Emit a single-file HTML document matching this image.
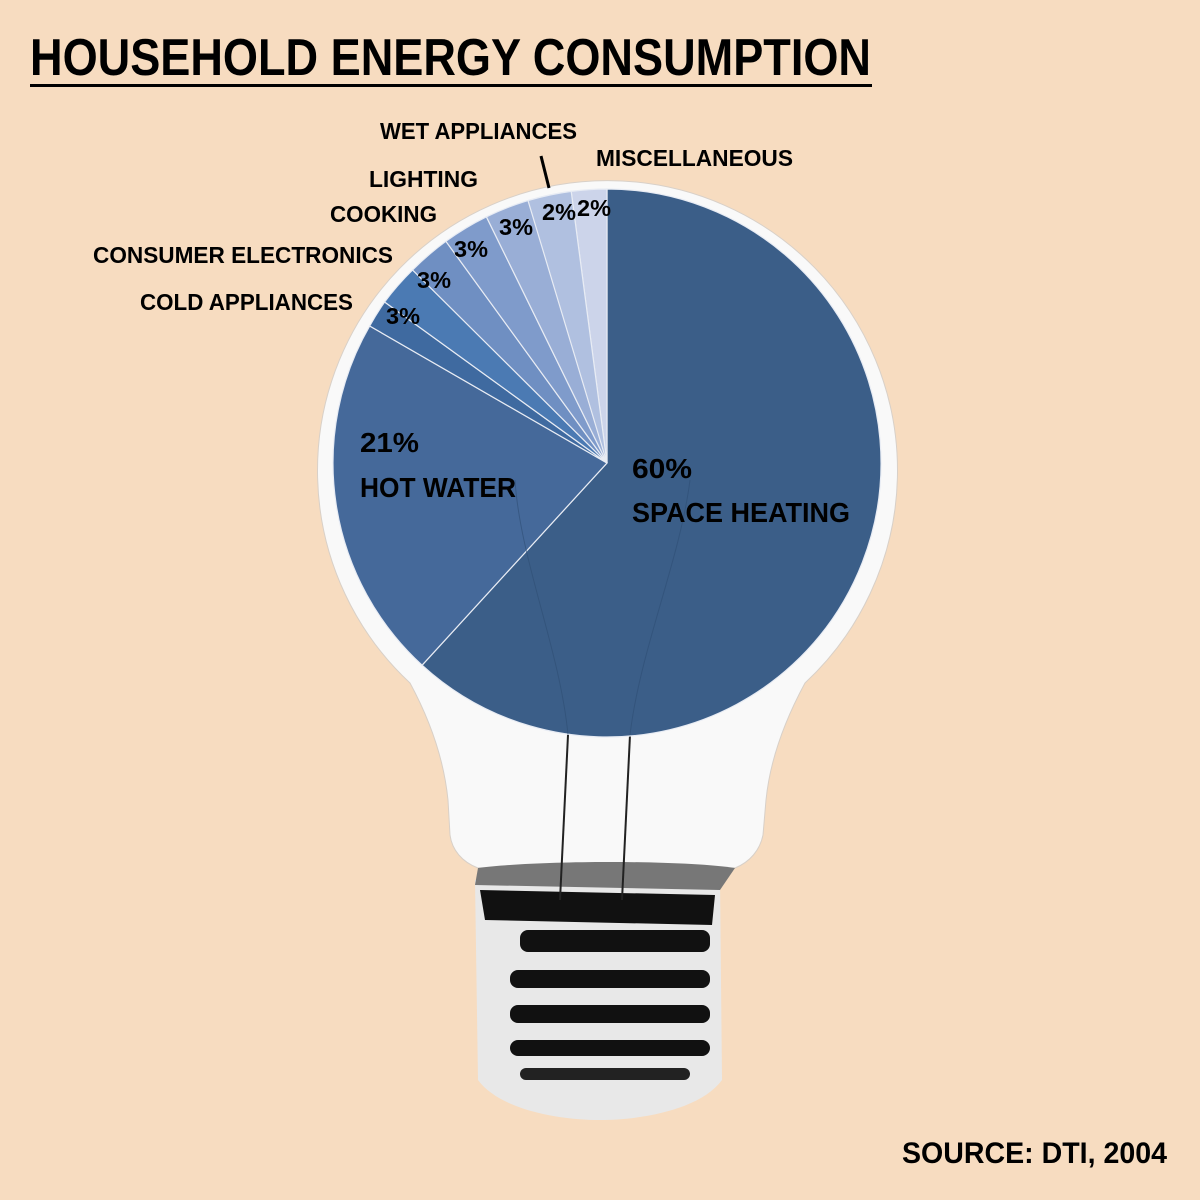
<!DOCTYPE html>
<html><head><style>
body{margin:0;width:1200px;height:1200px;background:#f7dcc0;overflow:hidden}
svg{display:block}
text{font-family:"Liberation Sans Narrow","Liberation Sans",sans-serif;font-weight:bold;fill:#000}
</style></head><body>
<svg width="1200" height="1200" viewBox="0 0 1200 1200">
<rect width="1200" height="1200" fill="#f7dcc0"/>
<text x="30" y="75" font-size="52" textLength="841" lengthAdjust="spacingAndGlyphs">HOUSEHOLD ENERGY CONSUMPTION</text>
<rect x="30" y="84" width="842" height="3" fill="#000"/>
<path d="M410 683 A290 290 0 1 1 805 683 C785 720 770 760 766 800 L763 835 C760 850 750 862 735 868 L478 868 C462 862 452 850 450 835 L448 800 C444 760 430 720 410 683 Z" fill="#f9f9f9" stroke="#d8d0c8" stroke-width="1"/>
<g>
<path d="M475 880 C540 865 680 865 720 880 L722 1080 C700 1110 640 1120 600 1120 C560 1120 500 1110 478 1080 Z" fill="#e8e8e8"/>
<path d="M480 890 L715 895 L712 925 L485 920 Z" fill="#111"/>
<path d="M478 868 C540 860 680 860 735 868 L720 890 L475 885 Z" fill="#777"/>
<rect x="520" y="930" width="190" height="22" fill="#111" rx="8"/>
<rect x="510" y="970" width="200" height="18" fill="#111" rx="8"/>
<rect x="510" y="1005" width="200" height="18" fill="#111" rx="8"/>
<rect x="510" y="1040" width="200" height="16" fill="#111" rx="8"/>
<rect x="520" y="1068" width="170" height="12" fill="#222" rx="6"/>
<line x1="568" y1="735" x2="560" y2="900" stroke="#222" stroke-width="2"/>
<line x1="630" y1="735" x2="622" y2="900" stroke="#222" stroke-width="2"/>
</g>
<g stroke="#e8ecf4" stroke-width="1.2">
<path d="M607 463 L607 189 A274 274 0 1 1 422.1 665.2 Z" fill="#3b5e88"/>
<path d="M607 463 L422.1 665.2 A274 274 0 0 1 369.7 326 Z" fill="#45699a"/>
<path d="M607 463 L369.7 326 A274 274 0 0 1 384.6 302 Z" fill="#3f6aa0"/>
<path d="M607 463 L384.6 302 A274 274 0 0 1 412.6 270 Z" fill="#4b7ab3"/>
<path d="M607 463 L412.6 270 A274 274 0 0 1 445.9 241.3 Z" fill="#6f8fc2"/>
<path d="M607 463 L445.9 241.3 A274 274 0 0 1 486.4 216.8 Z" fill="#7f9bcb"/>
<path d="M607 463 L486.4 216.8 A274 274 0 0 1 571.2 191.4 Z" fill="#99aed6"/>
<path d="M607 463 L571.2 191.4 A274 274 0 0 1 607 189 Z" fill="#ccd4ea"/>
<path d="M607 463 L528 200.6 A274 274 0 0 1 571.2 191.4 Z" fill="#b0c0e0"/>
</g>
<g stroke="#2f4e74" stroke-width="1" opacity="0.6" fill="none">
<path d="M568 735 C560 650 520 560 515 480"/>
<path d="M630 735 C640 650 680 560 690 480"/>
</g>
<line x1="541" y1="156" x2="549" y2="188" stroke="#000" stroke-width="3"/>
<g font-size="28" lengthAdjust="spacingAndGlyphs">
<text x="360" y="452" textLength="59" lengthAdjust="spacingAndGlyphs">21%</text>
<text x="360" y="497" textLength="156" lengthAdjust="spacingAndGlyphs">HOT WATER</text>
<text x="632" y="478" textLength="60" lengthAdjust="spacingAndGlyphs">60%</text>
<text x="632" y="522" textLength="218" lengthAdjust="spacingAndGlyphs">SPACE HEATING</text>
</g>
<g font-size="23">
<text x="386" y="324" textLength="34" lengthAdjust="spacingAndGlyphs">3%</text>
<text x="417" y="288" textLength="34" lengthAdjust="spacingAndGlyphs">3%</text>
<text x="454" y="257" textLength="34" lengthAdjust="spacingAndGlyphs">3%</text>
<text x="499" y="235" textLength="34" lengthAdjust="spacingAndGlyphs">3%</text>
<text x="542" y="220" textLength="34" lengthAdjust="spacingAndGlyphs">2%</text>
<text x="577" y="216" textLength="34" lengthAdjust="spacingAndGlyphs">2%</text>
<text x="380" y="139" textLength="197" lengthAdjust="spacingAndGlyphs">WET APPLIANCES</text>
<text x="596" y="166" textLength="197" lengthAdjust="spacingAndGlyphs">MISCELLANEOUS</text>
<text x="369" y="187" textLength="109" lengthAdjust="spacingAndGlyphs">LIGHTING</text>
<text x="330" y="222" textLength="107" lengthAdjust="spacingAndGlyphs">COOKING</text>
<text x="93" y="263" textLength="300" lengthAdjust="spacingAndGlyphs">CONSUMER ELECTRONICS</text>
<text x="140" y="310" textLength="213" lengthAdjust="spacingAndGlyphs">COLD APPLIANCES</text>
</g>
<text x="902" y="1163" font-size="30" textLength="265" lengthAdjust="spacingAndGlyphs">SOURCE: DTI, 2004</text>
</svg>
</body></html>
